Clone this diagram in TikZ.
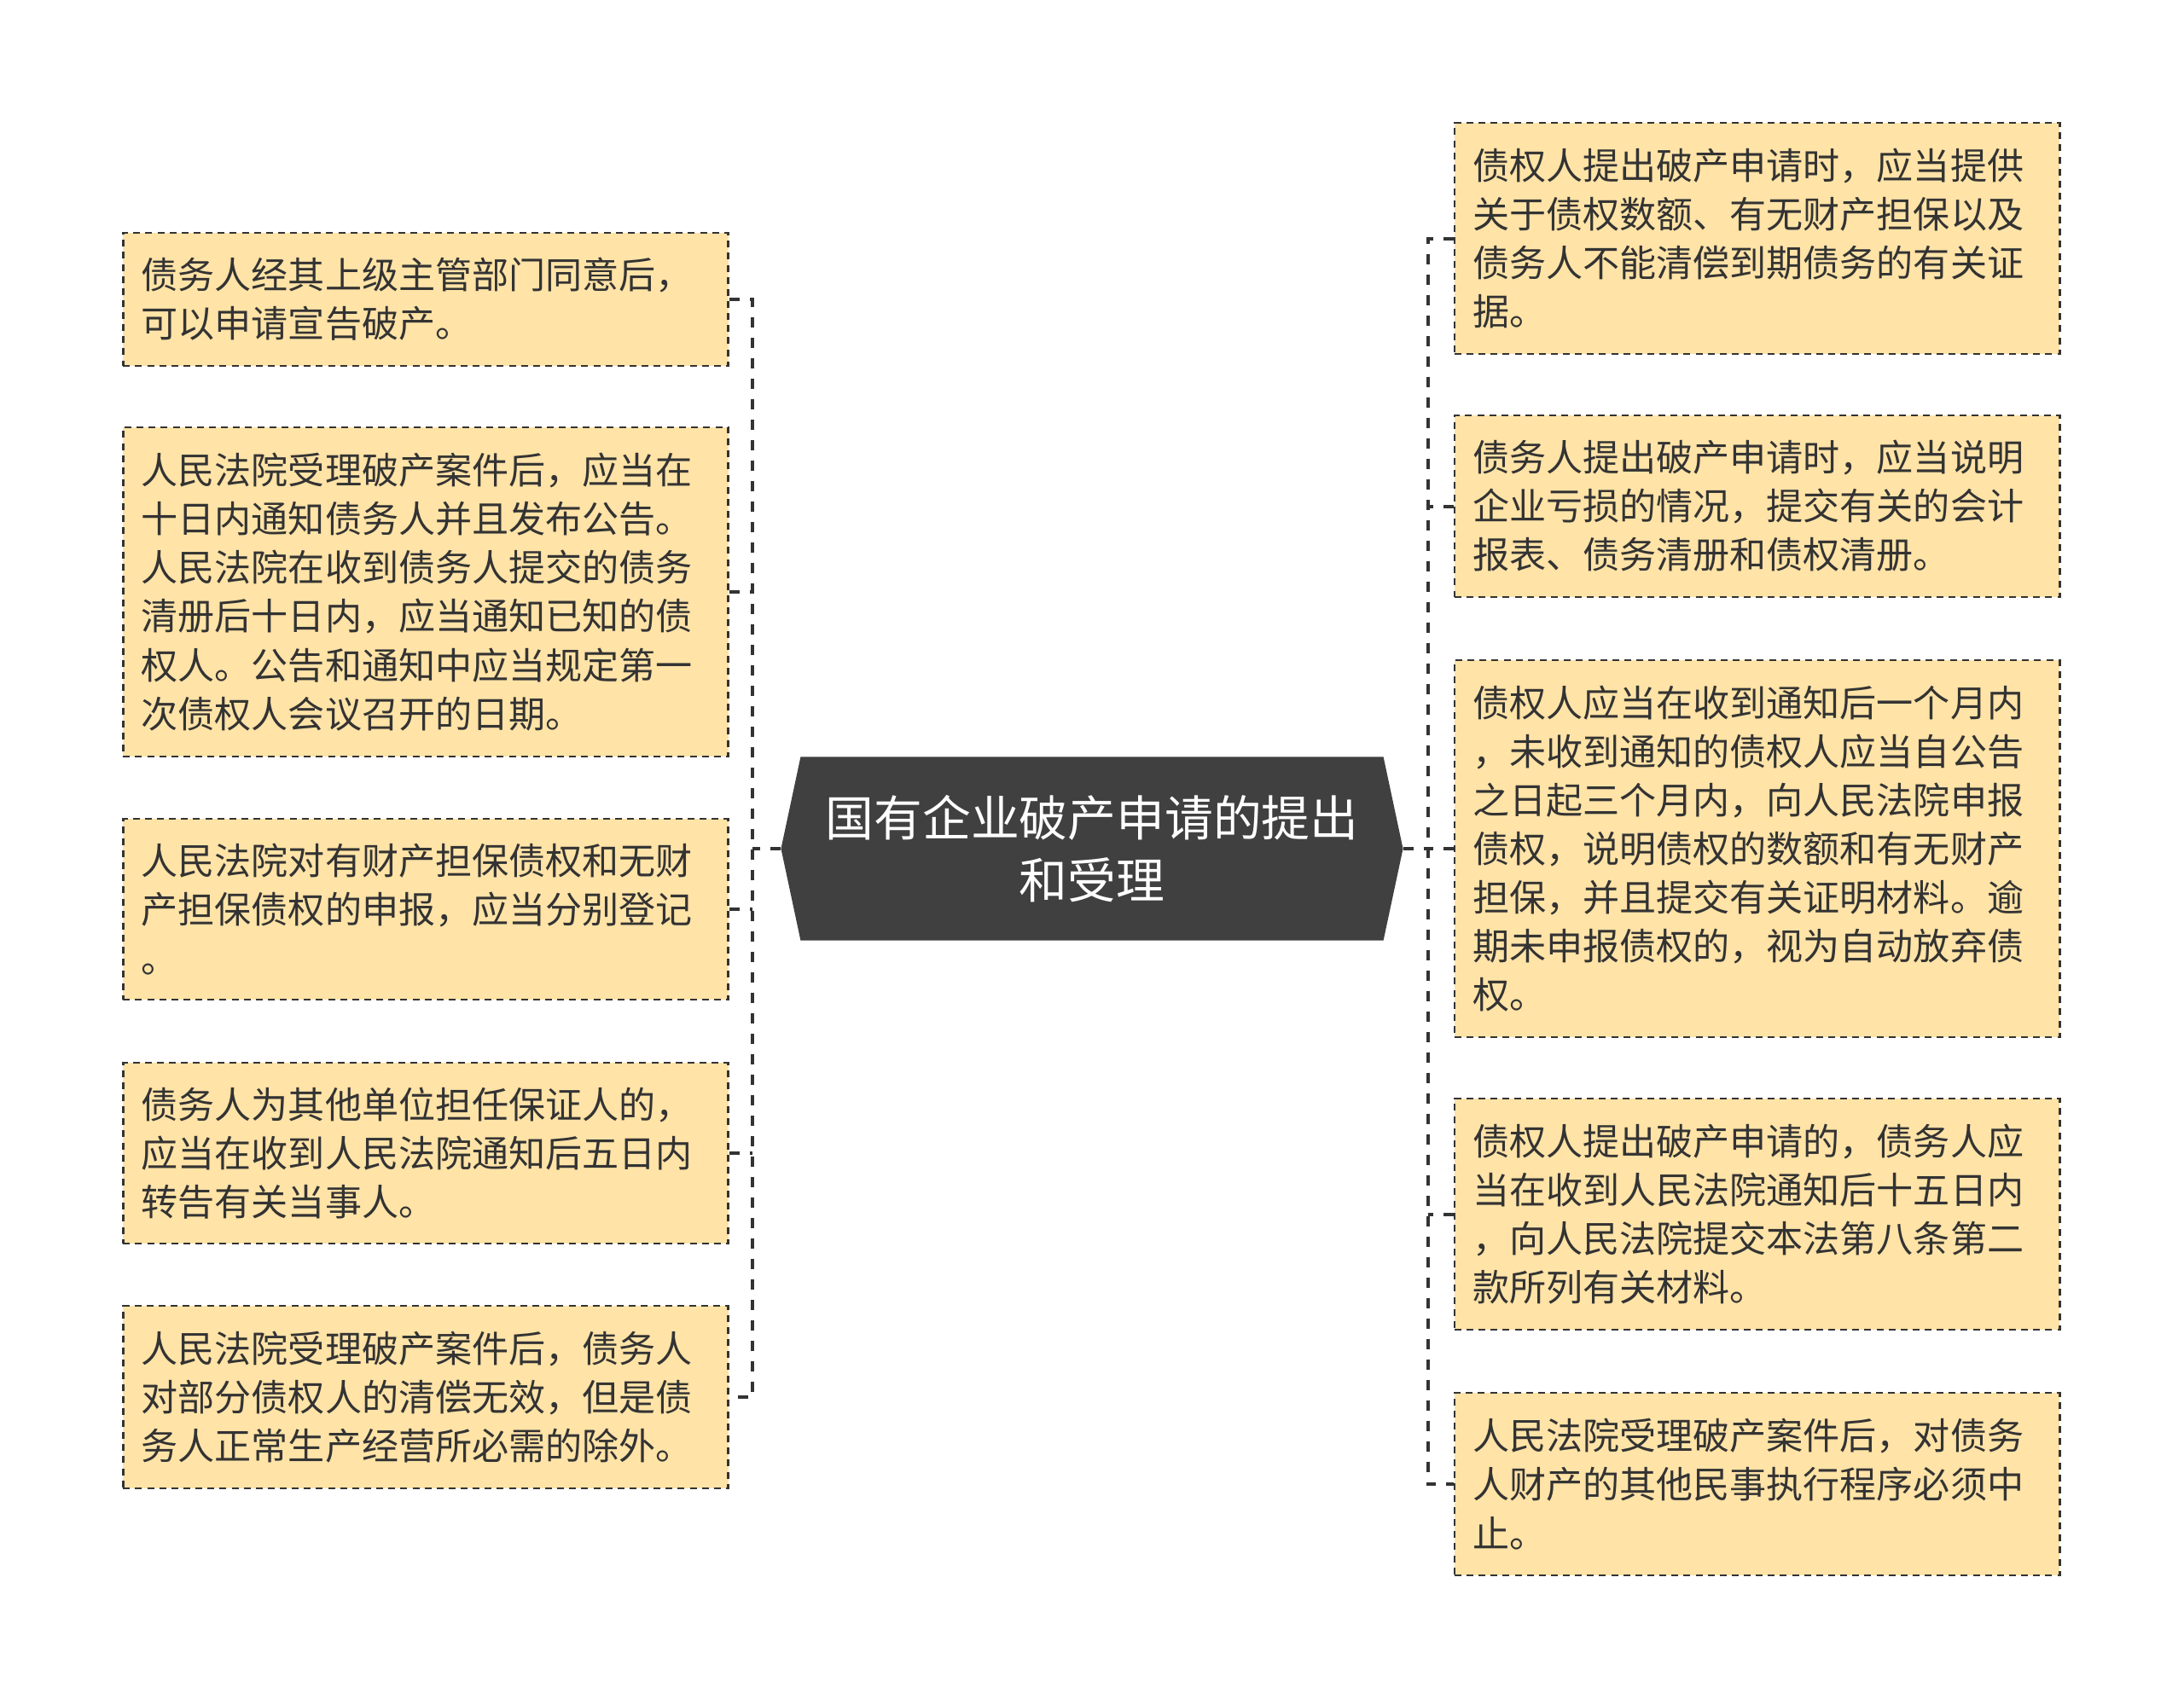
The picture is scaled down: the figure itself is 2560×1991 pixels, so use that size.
\documentclass[tikz,border=0pt]{standalone}
\usepackage{fontspec}
\setmainfont{Noto Sans CJK SC}
\usetikzlibrary{backgrounds}
\definecolor{boxfill}{HTML}{FFE3A7}
\definecolor{boxline}{HTML}{333333}
\definecolor{centerfill}{HTML}{404040}
\tikzset{
  leaf/.style={draw=boxline, fill=boxfill, line width=1pt, dash pattern=on 3pt off 2.3pt,
    text=boxline, align=left, text width=250pt, inner xsep=8pt, inner ysep=0pt,
    font=\fontsize{16.15pt}{21.4pt}\selectfont},
  centre/.style={text=white, align=center, text width=250pt, inner sep=0pt,
    minimum width=273pt, minimum height=80.25pt, font=\fontsize{21.3pt}{27.6pt}\selectfont},
  conn/.style={draw=boxline, line width=1.5pt, dash pattern=on 4.5pt off 4.5pt}
}
\begin{document}
\begin{tikzpicture}[x=0.375pt,y=-0.375pt]
\useasboundingbox (0,0) rectangle (2560,1991);
\node[centre] (c) at (1280,995) {国有企业破产申请的提出\\和受理};
\begin{scope}[on background layer]
\fill[centerfill] ([xshift=8.6pt]c.north west) -- ([xshift=-8.6pt]c.north east) -- (c.east)
  -- ([xshift=-8.6pt]c.south east) -- ([xshift=8.6pt]c.south west) -- (c.west) -- cycle;
\end{scope}

\node[leaf, minimum height=58.5pt] (L1) at (499,351) {债务人经其上级主管部门同意后，\\可以申请宣告破产。};
\node[leaf, minimum height=144.75pt] (L2) at (499,694) {人民法院受理破产案件后，应当在\\十日内通知债务人并且发布公告。\\人民法院在收到债务人提交的债务\\清册后十日内，应当通知已知的债\\权人。公告和通知中应当规定第一\\次债权人会议召开的日期。};
\node[leaf, minimum height=79.5pt] (L3) at (499,1066) {人民法院对有财产担保债权和无财\\产担保债权的申报，应当分别登记\\。};
\node[leaf, minimum height=79.5pt] (L4) at (499,1352) {债务人为其他单位担任保证人的，\\应当在收到人民法院通知后五日内\\转告有关当事人。};
\node[leaf, minimum height=80.25pt] (L5) at (499,1638) {人民法院受理破产案件后，债务人\\对部分债权人的清偿无效，但是债\\务人正常生产经营所必需的除外。};

\node[leaf, minimum height=101.6pt] (R1) at (2059.5,279.5) {债权人提出破产申请时，应当提供\\关于债权数额、有无财产担保以及\\债务人不能清偿到期债务的有关证\\据。};
\node[leaf, minimum height=79.9pt] (R2) at (2059.5,593.5) {债务人提出破产申请时，应当说明\\企业亏损的情况，提交有关的会计\\报表、债务清册和债权清册。};
\node[leaf, minimum height=165.75pt] (R3) at (2059.5,995) {债权人应当在收到通知后一个月内\\，未收到通知的债权人应当自公告\\之日起三个月内，向人民法院申报\\债权，说明债权的数额和有无财产\\担保，并且提交有关证明材料。逾\\期未申报债权的，视为自动放弃债\\权。};
\node[leaf, minimum height=101.6pt] (R4) at (2059.5,1423.5) {债权人提出破产申请的，债务人应\\当在收到人民法院通知后十五日内\\，向人民法院提交本法第八条第二\\款所列有关材料。};
\node[leaf, minimum height=80.25pt] (R5) at (2059.5,1740) {人民法院受理破产案件后，对债务\\人财产的其他民事执行程序必须中\\止。};

% left connectors
\draw[conn] (c.west) -- ++(-33,0) coordinate (jl);
\draw[conn] (L1.east) -- (L1.east -| jl) -- (L5.east -| jl) -- (L5.east);
\foreach \n in {L2,L3,L4} \draw[conn] (\n.east) -- (\n.east -| jl);
% right connectors
\draw[conn] (c.east) -- ++(29,0) coordinate (jr);
\draw[conn] (R1.west) -- (R1.west -| jr) -- (R5.west -| jr) -- (R5.west);
\foreach \n in {R2,R3,R4} \draw[conn] (\n.west) -- (\n.west -| jr);
\end{tikzpicture}
\end{document}
